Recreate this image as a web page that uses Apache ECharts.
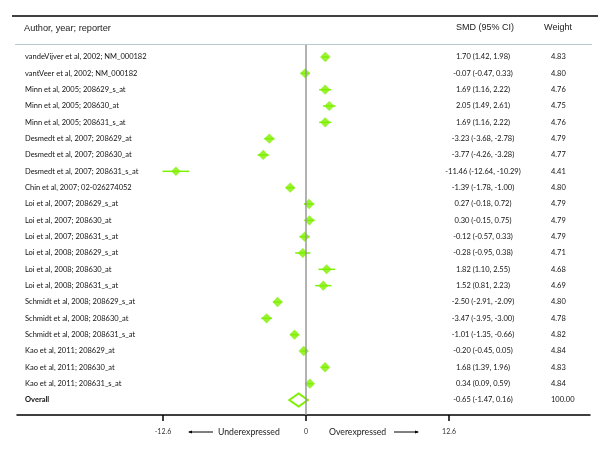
<!DOCTYPE html>
<html><head><meta charset="utf-8">
<script src="https://cdn.jsdelivr.net/npm/echarts@6/dist/echarts.min.js"></script>
<style>html,body{margin:0;padding:0;background:#fff}#c{width:600px;height:450px}</style>
</head><body><div id="c"></div>
<script>
const studies = [
 'vandeVijver et al, 2002; NM_000182','vantVeer et al, 2002; NM_000182',
 'Minn et al, 2005; 208629_s_at','Minn et al, 2005; 208630_at','Minn et al, 2005; 208631_s_at',
 'Desmedt et al, 2007; 208629_at','Desmedt et al, 2007; 208630_at','Desmedt et al, 2007; 208631_s_at',
 'Chin et al, 2007; 02-026274052',
 'Loi et al, 2007; 208629_s_at','Loi et al, 2007; 208630_at','Loi et al, 2007; 208631_s_at',
 'Loi et al, 2008; 208629_s_at','Loi et al, 2008; 208630_at','Loi et al, 2008; 208631_s_at',
 'Schmidt et al, 2008; 208629_s_at','Schmidt et al, 2008; 208630_at','Schmidt et al, 2008; 208631_s_at',
 'Kao et al, 2011; 208629_at','Kao et al, 2011; 208630_at','Kao et al, 2011; 208631_s_at'
];
const smd   = [1.70,-0.07,1.69,2.05,1.69,-3.23,-3.77,-11.46,-1.39,0.27,0.30,-0.12,-0.28,1.82,1.52,-2.50,-3.47,-1.01,-0.20,1.68,0.34];
const ciLow = [1.42,-0.47,1.16,1.49,1.16,-3.68,-4.26,-12.64,-1.78,-0.18,-0.15,-0.57,-0.95,1.10,0.81,-2.91,-3.95,-1.35,-0.45,1.39,0.09];
const ciHigh= [1.98,0.33,2.22,2.61,2.22,-2.78,-3.28,-10.29,-1.00,0.72,0.75,0.33,0.38,2.55,2.23,-2.09,-3.00,-0.66,0.05,1.96,0.59];
const weights=[4.83,4.80,4.76,4.75,4.76,4.79,4.77,4.41,4.80,4.79,4.79,4.79,4.71,4.68,4.69,4.80,4.78,4.82,4.84,4.83,4.84];
const overallLabel = 'Overall';
const overall = {smd:-0.65, low:-1.47, high:0.16, weight:100.00};
const xTicks = [-12.6, 0, 12.6];

const labels = studies.concat([overallLabel]);
const ciText = smd.map((v,i)=>v.toFixed(2)+' ('+ciLow[i].toFixed(2)+', '+ciHigh[i].toFixed(2)+')')
  .concat([overall.smd.toFixed(2)+' ('+overall.low.toFixed(2)+', '+overall.high.toFixed(2)+')']);
const wText = weights.map(w=>w.toFixed(2)).concat([overall.weight.toFixed(2)]);
const rows = labels.map((_,i)=>i);
const GREEN = '#7ff000';
const BODY_FONT = 'Lato';
const FS = 7.5;

const yBase = {type:'value', inverse:true, min:-0.735, max:21.92, splitLine:{show:false},
  axisLine:{show:false}, axisTick:{show:false}};

const chart = echarts.init(document.getElementById('c'), null, {renderer:'canvas'});
chart.setOption({
  animation:false,
  grid:{left:17, right:10, top:45, bottom:35},
  xAxis:{type:'value', min:-25.46, max:25.02, splitLine:{show:false},
    axisLine:{show:true, onZero:false, lineStyle:{color:'#000', width:1.5}},
    axisTick:{show:true, customValues:xTicks, length:6, lineStyle:{color:'#000', width:1.5}},
    axisLabel:{customValues:xTicks, color:'#333', fontSize:7, fontFamily:BODY_FONT, margin:13,
      formatter:v=>String(v)}},
  yAxis:[
    Object.assign({}, yBase, {position:'left', axisLabel:{show:true, inside:true, margin:8,
      customValues:rows, color:'#111', fontSize:FS, fontFamily:BODY_FONT, align:'left',
      formatter:v=>{const t=labels[v]; return t===overallLabel?'{b|'+t+'}':t;},
      rich:{b:{fontWeight:'bold', fontSize:FS, fontFamily:BODY_FONT, color:'#111'}}}}),
    Object.assign({}, yBase, {position:'right', offset:-107, axisLabel:{show:true, margin:0,
      customValues:rows, color:'#111', fontSize:FS, fontFamily:BODY_FONT, align:'center',
      formatter:v=>ciText[v]}}),
    Object.assign({}, yBase, {position:'right', offset:-39, axisLabel:{show:true, margin:0,
      customValues:rows, color:'#111', fontSize:FS, fontFamily:BODY_FONT, align:'left',
      formatter:v=>wText[v]}})
  ],
  series:[
    {type:'custom', name:'ci', xAxisIndex:0, yAxisIndex:0,
      data: smd.map((_,i)=>[ciLow[i], ciHigh[i], i]),
      renderItem:(p,api)=>{
        const a=api.coord([api.value(0), api.value(2)]), b=api.coord([api.value(1), api.value(2)]);
        return {type:'line', shape:{x1:a[0],y1:a[1],x2:b[0],y2:b[1]}, style:{stroke:GREEN, lineWidth:1.5}};
      }, z:2},
    {type:'scatter', name:'smd', xAxisIndex:0, yAxisIndex:0, symbol:'diamond',
      data: smd.map((v,i)=>[v, i, weights[i]]),
      symbolSize: d=>d[2]*2.15,
      itemStyle:{color:GREEN}, z:3,
      markLine:{silent:true, symbol:'none', label:{show:false},
        lineStyle:{color:'#999', width:1.5, type:'solid'}, data:[{xAxis:0}]}},
    {type:'custom', name:'overall', xAxisIndex:0, yAxisIndex:0,
      data:[[overall.smd, overall.low, overall.high, labels.length-1]],
      renderItem:(p,api)=>{
        const r=api.value(3);
        const c=api.coord([api.value(0), r]), l=api.coord([api.value(1), r]), h=api.coord([api.value(2), r]);
        return {type:'polygon', shape:{points:[l,[c[0],c[1]-6.5],h,[c[0],c[1]+6.5]]},
          style:{fill:'#fff', stroke:GREEN, lineWidth:2}};
      }, z:4}
  ],
  graphic:[
    {type:'line', shape:{x1:12,y1:16,x2:598,y2:16}, style:{stroke:'#000', lineWidth:1.5}},
    {type:'line', shape:{x1:15,y1:44.5,x2:592,y2:44.5}, style:{stroke:'#b9c9cc', lineWidth:1.2}},
    {type:'text', x:24, y:28, style:{text:'Author, year; reporter', fontSize:9.2, fontFamily:'Liberation Sans', fill:'#222', textVerticalAlign:'middle'}},
    {type:'text', x:485, y:28, style:{text:'SMD (95% CI)', fontSize:9, fontFamily:'Liberation Sans', fill:'#222', textAlign:'center', textVerticalAlign:'middle'}},
    {type:'text', x:558, y:28, style:{text:'Weight', fontSize:9, fontFamily:'Liberation Sans', fill:'#222', textAlign:'center', textVerticalAlign:'middle'}},
    {type:'line', shape:{x1:189,y1:432,x2:213,y2:432}, style:{stroke:'#000', lineWidth:1}},
    {type:'polygon', shape:{points:[[188,432],[192,430.5],[192,433.5]]}, style:{fill:'#000'}},
    {type:'text', x:218, y:432, style:{text:'Underexpressed', fontSize:8.7, fontFamily:BODY_FONT, fill:'#222', textVerticalAlign:'middle'}},
    {type:'text', x:329, y:432, style:{text:'Overexpressed', fontSize:8.7, fontFamily:BODY_FONT, fill:'#222', textVerticalAlign:'middle'}},
    {type:'line', shape:{x1:394,y1:432,x2:418,y2:432}, style:{stroke:'#000', lineWidth:1}},
    {type:'polygon', shape:{points:[[419,432],[415,430.5],[415,433.5]]}, style:{fill:'#000'}}
  ]
});
</script></body></html>
